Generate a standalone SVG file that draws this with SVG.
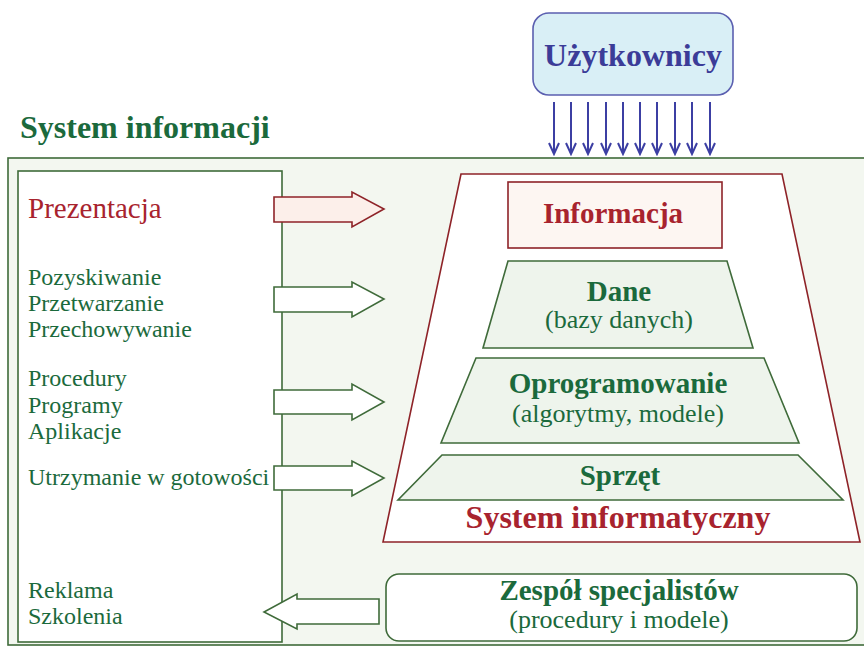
<svg xmlns="http://www.w3.org/2000/svg" width="864" height="647" viewBox="0 0 864 647">
<defs>
<style>
.serif{font-family:"Liberation Serif","Times New Roman",serif}
.green{fill:#1b6a3c}
.red{fill:#a8232e}
.b{font-weight:bold}
.list{font-size:24px}
.sub{font-size:26px}
.lbl{font-size:29px;font-weight:bold}
.gstroke{stroke:#3f6b3a;stroke-width:1.6}
.rstroke{stroke:#8e2328;stroke-width:1.6}
.uarrow{stroke:#3c3fa3;stroke-width:2;fill:none}
</style>
<marker id="ah" markerWidth="14" markerHeight="14" refX="12" refY="7" orient="auto" markerUnits="userSpaceOnUse" viewBox="0 0 14 14">
<path d="M1,2 L12,7 L1,12" fill="none" stroke="#3c3fa3" stroke-width="2"/>
</marker>
</defs>
<rect width="864" height="647" fill="#ffffff"/>

<g id="title">
<text x="20" y="138" class="serif b green" font-size="32">System informacji</text>
</g>

<g id="container">
<rect x="8" y="158" width="870" height="487" fill="#f3f7f0" class="gstroke"/>
</g>

<g id="uzytkownicy">
<rect x="533" y="13" width="200" height="82" rx="16" ry="16" fill="#d9eff6" stroke="#5b5fb0" stroke-width="1.6"/>
<text x="633" y="66" text-anchor="middle" class="serif b" font-size="32" fill="#3b3c98">Użytkownicy</text>
</g>

<g id="left-box">
<rect x="18" y="171" width="264" height="471" fill="#ffffff" class="gstroke"/>
<text x="28" y="218" class="serif red" font-size="29">Prezentacja</text>
<text class="serif green list">
<tspan x="28" y="285">Pozyskiwanie</tspan>
<tspan x="28" y="311">Przetwarzanie</tspan>
<tspan x="28" y="337">Przechowywanie</tspan>
</text>
<text class="serif green list">
<tspan x="28" y="386">Procedury</tspan>
<tspan x="28" y="413">Programy</tspan>
<tspan x="28" y="439">Aplikacje</tspan>
</text>
<text x="28" y="485" class="serif green list">Utrzymanie w gotowości</text>
<text class="serif green list">
<tspan x="28" y="598">Reklama</tspan>
<tspan x="28" y="624">Szkolenia</tspan>
</text>
</g>

<g id="system-informatyczny">
<polygon points="461,174 782,174 860,542 383,542" fill="#ffffff" class="rstroke"/>
<text x="618" y="528" text-anchor="middle" class="serif b red" font-size="32">System informatyczny</text>
</g>

<g id="informacja">
<rect x="508" y="182" width="214" height="66" fill="#fdf6f2" class="rstroke"/>
<text x="613" y="223" text-anchor="middle" class="serif red lbl">Informacja</text>
</g>

<g id="dane">
<polygon points="508,261 727,261 753,348 483,348" fill="#eef4ec" class="gstroke"/>
<text x="619" y="301" text-anchor="middle" class="serif green lbl">Dane</text>
<text x="619" y="328" text-anchor="middle" class="serif green sub">(bazy danych)</text>
</g>

<g id="oprogramowanie">
<polygon points="476,358 764,358 799,443 441,443" fill="#eef4ec" class="gstroke"/>
<text x="618" y="393" text-anchor="middle" class="serif green lbl">Oprogramowanie</text>
<text x="618" y="422" text-anchor="middle" class="serif green sub">(algorytmy, modele)</text>
</g>

<g id="sprzet">
<polygon points="442,455 798,455 843,500 398,500" fill="#eef4ec" class="gstroke"/>
<text x="620" y="485" text-anchor="middle" class="serif green lbl">Sprzęt</text>
</g>

<g id="zespol">
<rect x="386" y="574" width="471" height="67" rx="13" ry="13" fill="#ffffff" class="gstroke"/>
<text x="619" y="600" text-anchor="middle" class="serif green lbl">Zespół specjalistów</text>
<text x="619" y="628" text-anchor="middle" class="serif green sub">(procedury i modele)</text>
</g>

<g id="connectors">
<path d="M274,197 H352 V192 L384,209 L352,227 V222 H274 Z" fill="#fcefea" class="rstroke"/>
<path d="M274,287 H352 V282 L384,299 L352,317 V312 H274 Z" fill="#ffffff" class="gstroke"/>
<path d="M274,390 H352 V384 L384,402 L352,420 V414 H274 Z" fill="#ffffff" class="gstroke"/>
<path d="M274,466 H352 V461 L384,478 L352,496 V490 H274 Z" fill="#ffffff" class="gstroke"/>
<path d="M379,599 H297 V594 L264,612 L297,629 V624 H379 Z" fill="#ffffff" class="gstroke"/>
<g class="uarrow" marker-end="url(#ah)">
<line x1="554" y1="102" x2="554" y2="154"/>
<line x1="571" y1="102" x2="571" y2="154"/>
<line x1="588" y1="102" x2="588" y2="154"/>
<line x1="606" y1="102" x2="606" y2="154"/>
<line x1="623" y1="102" x2="623" y2="154"/>
<line x1="640" y1="102" x2="640" y2="154"/>
<line x1="657" y1="102" x2="657" y2="154"/>
<line x1="675" y1="102" x2="675" y2="154"/>
<line x1="692" y1="102" x2="692" y2="154"/>
<line x1="710" y1="102" x2="710" y2="154"/>
</g>
</g>
</svg>
